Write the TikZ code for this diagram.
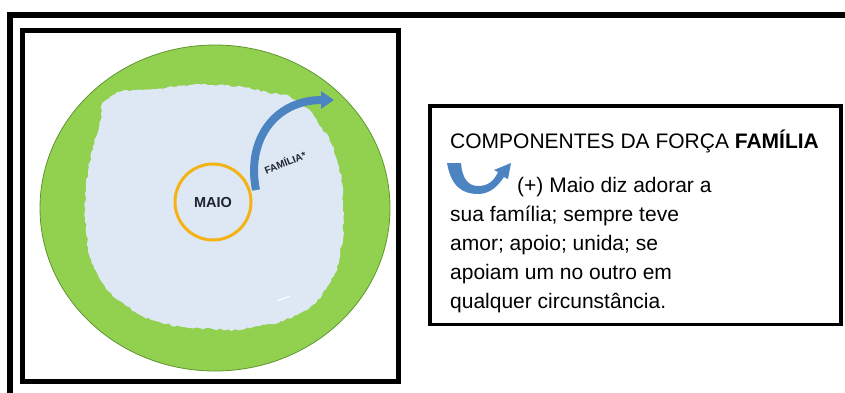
\documentclass[tikz,border=0pt]{standalone}
\usepackage{fontspec}
\setmainfont{Liberation Sans}
\usetikzlibrary{arrows.meta,decorations.pathmorphing}
\definecolor{verde}{RGB}{146,208,80}
\definecolor{verdeE}{RGB}{96,150,48}
\definecolor{azulC}{RGB}{221,232,244}
\definecolor{azulS}{RGB}{76,132,194}
\definecolor{laranja}{RGB}{245,178,20}
\definecolor{tinta}{RGB}{30,36,48}
\begin{document}
\begin{tikzpicture}[x=1pt,y=-1pt, line join=miter, >=Triangle,
		moldura/.style={draw=black,line width=#1},
		rotulo/.style={font=\fontsize{21}{29}\selectfont,anchor=base west,inner sep=0pt}]
	\useasboundingbox (0,0) rectangle (845,392);
	% molduras
	\draw[moldura=6pt] (10,395) -- (10,15) -- (848,15);
	\draw[moldura=5pt] (22.5,30.5) rectangle (398.5,381);
	% circulo verde e mancha azul
	\filldraw[fill=verde,draw=verdeE,line width=0.8pt] (215,208) ellipse[x radius=175,y radius=163];
	\pgfmathsetseed{7}
	\fill[azulC,decorate,decoration={random steps,segment length=3pt,amplitude=1pt}]
		plot[smooth cycle,tension=0.9] coordinates{(110,97) (157,89) (213,85) (267,92) (300,103) (322,128) (337,160) (343,207) (340,253) (327,287) (300,313) (253,327) (213,329) (160,322) (123,303) (97,273) (86,227) (88,173) (99,128)};
	\draw[white,line width=1pt] (277,301) -- (290,296);
	% MAIO
	\node[draw=laranja,line width=3pt,circle,minimum size=76pt,inner sep=0pt,
		font=\fontsize{14.5}{16}\selectfont\bfseries,text=tinta] (maio) at (213,202) {MAIO};
	\coordinate (famA) at (256,190);
	\coordinate (famB) at (334,100);
	\draw[azulS,line width=8pt,-{Triangle[width=17pt,length=13pt]}]
		(famA) .. controls (246,140) and (275,100) .. (famB);
	\node[rotate=22,font=\fontsize{10}{12}\selectfont\bfseries,text=tinta,inner sep=0pt] (fam) at (285,162) {FAMÍLIA*};
	% quadro da direita
	\draw[moldura=3.5pt] (430,106) rectangle (841,324.5);
	\node[rotulo] (titulo) at (450,148) {COMPONENTES DA FORÇA \textbf{FAMÍLIA}};
	\fill[azulS] (447,163) .. controls (451,186) and (462,194) .. (478,194)
		.. controls (490,194) and (498,186) .. (504,177) -- (508,179) -- (511,163) -- (494,170) -- (498,172)
		.. controls (494,181) and (488,186) .. (478,186) .. controls (468,186) and (462,178) .. (461,163) -- cycle;
	\node[rotulo,align=left] (texto) at (450,308) {\hspace*{67pt}(+) Maio diz adorar a\\sua família; sempre teve\\amor; apoio; unida; se\\apoiam um no outro em\\qualquer circunstância.};
\end{tikzpicture}
\end{document}
